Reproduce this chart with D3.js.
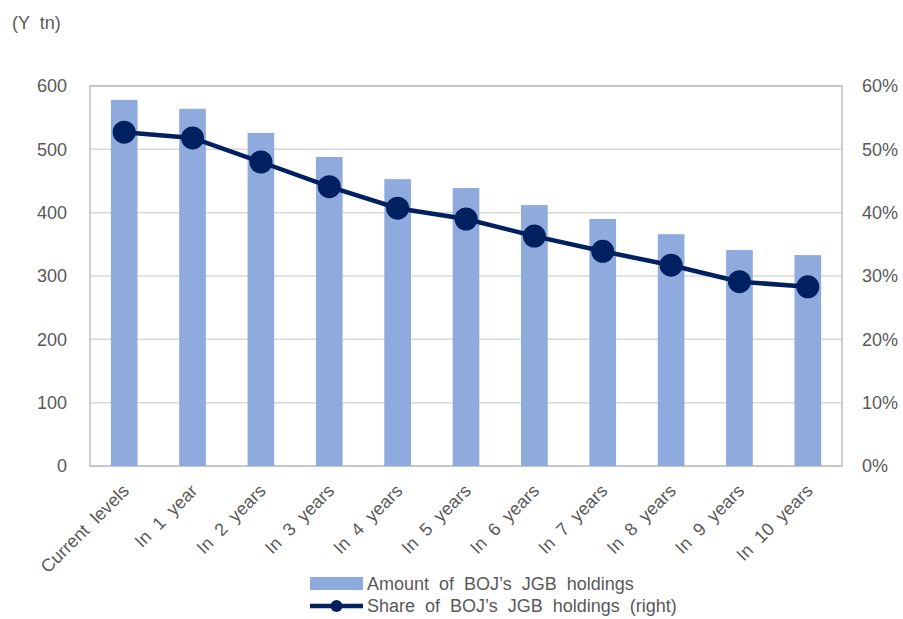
<!DOCTYPE html>
<html>
<head>
<meta charset="utf-8">
<script src="https://cdn.jsdelivr.net/npm/d3@7"></script>
<style>
  body { margin: 0; background: #fff; }
  text { font-family: "Liberation Sans", Arial, sans-serif; fill: #595959; }
</style>
</head>
<body>
<svg id="chart" width="903" height="619"></svg>
<script>
var categories = ["Current  levels", "In  1  year", "In  2  years", "In  3  years", "In  4  years",
  "In  5  years", "In  6  years", "In  7  years", "In  8  years", "In  9  years", "In  10  years"];
var amounts = [578, 564, 526, 488, 453, 439, 412, 390, 366, 341, 333];
var shares = [52.7, 51.8, 48.0, 44.1, 40.7, 39.0, 36.3, 33.9, 31.7, 29.1, 28.3];
var leftTicks = [0, 100, 200, 300, 400, 500, 600];
var rightTicks = [0, 10, 20, 30, 40, 50, 60];

var svg = d3.select("#chart");
var plotL = 90, plotR = 842, plotT = 86, plotB = 466;

var x = d3.scaleBand().domain(categories).range([plotL, plotR]).paddingInner(0.61).paddingOuter(0.305);
var y = d3.scaleLinear().domain([0, 600]).range([plotB, plotT]);
var y2 = d3.scaleLinear().domain([0, 60]).range([plotB, plotT]);

// gridlines
svg.append("g").selectAll("line")
  .data(leftTicks)
  .enter().append("line")
  .attr("x1", plotL).attr("x2", plotR)
  .attr("y1", function(d) { return y(d); }).attr("y2", function(d) { return y(d); })
  .attr("stroke", "#d9d9d9").attr("stroke-width", 1.5);

// plot border
svg.append("rect")
  .attr("x", plotL).attr("y", plotT)
  .attr("width", plotR - plotL).attr("height", plotB - plotT)
  .attr("fill", "none").attr("stroke", "#bfbfbf").attr("stroke-width", 1.5);

// bars
svg.append("g").selectAll("rect")
  .data(amounts)
  .enter().append("rect")
  .attr("x", function(d, i) { return x(categories[i]); })
  .attr("width", x.bandwidth())
  .attr("y", function(d) { return y(d); })
  .attr("height", function(d) { return y(0) - y(d); })
  .attr("fill", "#8faadc");

// line
var line = d3.line()
  .x(function(d, i) { return x(categories[i]) + x.bandwidth() / 2; })
  .y(function(d) { return y2(d); });
svg.append("path")
  .datum(shares)
  .attr("d", line)
  .attr("fill", "none")
  .attr("stroke", "#002060")
  .attr("stroke-width", 4.5);
svg.append("g").selectAll("circle")
  .data(shares)
  .enter().append("circle")
  .attr("cx", function(d, i) { return x(categories[i]) + x.bandwidth() / 2; })
  .attr("cy", function(d) { return y2(d); })
  .attr("r", 11.5)
  .attr("fill", "#002060");

// left axis
var ax = d3.axisLeft(y).tickValues(leftTicks).tickSize(0).tickPadding(23);
var gl = svg.append("g").attr("transform", "translate(" + plotL + ",0)").call(ax);
gl.select(".domain").remove();
gl.selectAll("text").style("font-size", "18px").attr("fill", "#595959");

// right axis
var ax2 = d3.axisRight(y2).tickValues(rightTicks).tickSize(0).tickPadding(20)
  .tickFormat(function(d) { return d + "%"; });
var gr = svg.append("g").attr("transform", "translate(" + plotR + ",0)").call(ax2);
gr.select(".domain").remove();
gr.selectAll("text").style("font-size", "18px").attr("fill", "#595959");

// category labels
var xa = d3.axisBottom(x).tickSize(0).tickPadding(0);
var gx = svg.append("g").attr("transform", "translate(0," + plotB + ")").call(xa);
gx.select(".domain").remove();
gx.selectAll("text")
  .style("font-size", "18px")
  .style("white-space", "pre")
  .attr("fill", "#595959")
  .attr("text-anchor", "end")
  .attr("dy", 0)
  .attr("transform", "translate(6,26) rotate(-45)");

// unit label
svg.append("text").attr("x", 12).attr("y", 29).style("font-size", "18px")
  .style("white-space", "pre").text("(Y  tn)");

// legend
var lg = svg.append("g");
lg.append("rect").attr("x", 310).attr("y", 577).attr("width", 53).attr("height", 13).attr("fill", "#8faadc");
lg.append("text").attr("x", 367).attr("y", 590).style("font-size", "18px").style("white-space", "pre")
  .text("Amount  of  BOJ\u2019s  JGB  holdings");
lg.append("line").attr("x1", 310).attr("x2", 363).attr("y1", 606).attr("y2", 606)
  .attr("stroke", "#002060").attr("stroke-width", 4.5);
lg.append("circle").attr("cx", 336.5).attr("cy", 606).attr("r", 6).attr("fill", "#002060");
lg.append("text").attr("x", 367).attr("y", 612).style("font-size", "18px").style("white-space", "pre")
  .text("Share  of  BOJ\u2019s  JGB  holdings  (right)");
</script>
</body>
</html>
